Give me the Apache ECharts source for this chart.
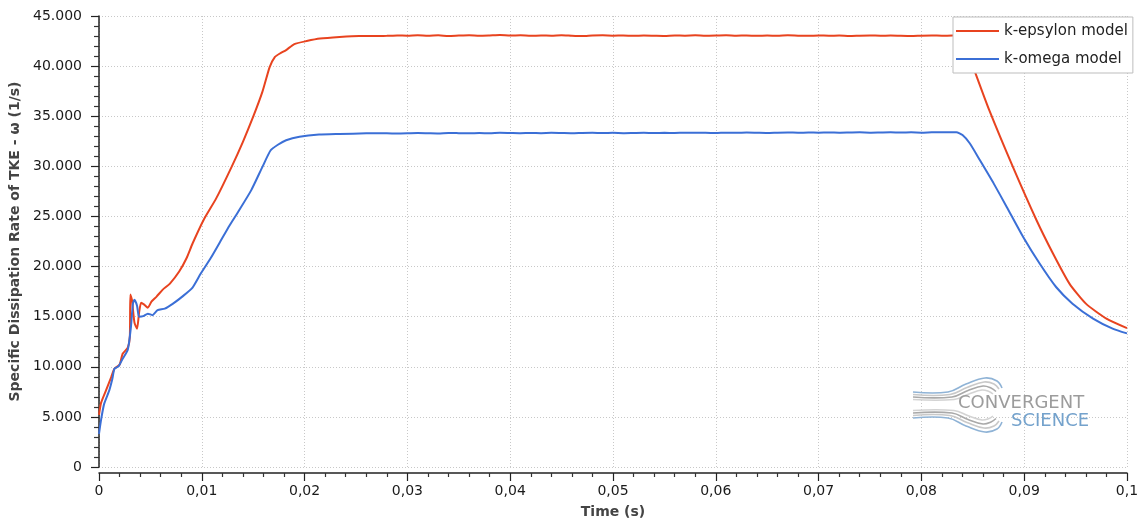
<!DOCTYPE html>
<html>
<head>
<meta charset="utf-8">
<script src="https://cdn.jsdelivr.net/npm/echarts@6/dist/echarts.min.js"></script>
<style>
html,body{margin:0;padding:0;background:#fff;}
#chart{width:1145px;height:526px;}
</style>
</head>
<body>
<div id="chart"></div>
<script>
// ---- Data (time in s, value in 1/s) ----
const seriesNames = ['k-epsylon model', 'k-omega model'];
const xTicks = [0, 0.01, 0.02, 0.03, 0.04, 0.05, 0.06, 0.07, 0.08, 0.09, 0.1];
const yTicks = [0, 5000, 10000, 15000, 20000, 25000, 30000, 35000, 40000, 45000];

const kEpsilon = [
  [0, 5200], [0.0002, 6400], [0.0007, 7700], [0.0012, 9000], [0.0015, 9800],
  [0.002, 10200], [0.0023, 11300], [0.0028, 11900], [0.0030, 13000], [0.00305, 17200],
  [0.0032, 16700], [0.00345, 14400], [0.0037, 13800], [0.0039, 15400], [0.0041, 16400],
  [0.0044, 16200], [0.00475, 15900], [0.0051, 16500], [0.0056, 17000], [0.0062, 17700],
  [0.0069, 18300], [0.0078, 19500], [0.0085, 20800], [0.0091, 22300], [0.0102, 24700],
  [0.0114, 26800], [0.0129, 29950], [0.0140, 32450], [0.0150, 34950], [0.0159, 37450],
  [0.0166, 39900], [0.0171, 40900], [0.0176, 41260], [0.0182, 41600], [0.0190, 42200],
  [0.0202, 42500], [0.0215, 42750], [0.0234, 42910], [0.0253, 43010], [0.0273, 43010],
  [0.028, 43020], [0.029, 43060], [0.030, 43040], [0.031, 43090], [0.032, 43030],
  [0.033, 43070], [0.034, 43010], [0.035, 43050], [0.036, 43080], [0.037, 43030],
  [0.038, 43060], [0.039, 43100], [0.040, 43050], [0.041, 43070], [0.042, 43020],
  [0.043, 43060], [0.044, 43040], [0.045, 43080], [0.046, 43030], [0.047, 43000],
  [0.048, 43050], [0.049, 43070], [0.050, 43040], [0.051, 43060], [0.052, 43020],
  [0.053, 43050], [0.054, 43030], [0.055, 43010], [0.056, 43060], [0.057, 43040],
  [0.058, 43070], [0.059, 43030], [0.060, 43050], [0.061, 43080], [0.062, 43040],
  [0.063, 43060], [0.064, 43020], [0.065, 43050], [0.066, 43030], [0.067, 43070],
  [0.068, 43040], [0.069, 43020], [0.070, 43060], [0.071, 43030], [0.072, 43050],
  [0.073, 43010], [0.074, 43040], [0.075, 43060], [0.076, 43030], [0.077, 43050],
  [0.078, 43020], [0.079, 43000], [0.080, 43040], [0.081, 43060], [0.082, 43030],
  [0.083, 43050], [0.0836, 43050], [0.0841, 42300], [0.0847, 40900], [0.0852, 39450],
  [0.0866, 35600], [0.0889, 29940], [0.0912, 24620], [0.0928, 21300], [0.0944, 18300],
  [0.0960, 16300], [0.0980, 14800], [0.1, 13850]
];

const kOmega = [
  [0, 3300], [0.0002, 4700], [0.0005, 6300], [0.001, 7650], [0.0013, 8800],
  [0.0015, 9800], [0.0019, 10050], [0.0023, 10800], [0.0028, 11700], [0.0031, 13900],
  [0.0033, 16300], [0.00345, 16700], [0.0037, 16100], [0.0039, 15000], [0.0043, 15050],
  [0.00475, 15300], [0.0052, 15150], [0.0057, 15650], [0.0064, 15800], [0.0072, 16300],
  [0.0081, 17000], [0.0091, 17900], [0.0099, 19300], [0.0109, 20900], [0.0118, 22500],
  [0.0127, 24100], [0.0135, 25400], [0.0148, 27600], [0.0159, 29950], [0.0167, 31600],
  [0.0174, 32150], [0.0182, 32600], [0.0195, 32950], [0.0214, 33170], [0.0234, 33230],
  [0.026, 33290], [0.028, 33300], [0.029, 33270], [0.030, 33290], [0.031, 33320],
  [0.032, 33300], [0.033, 33280], [0.034, 33330], [0.035, 33310], [0.036, 33290],
  [0.037, 33320], [0.038, 33300], [0.039, 33340], [0.040, 33320], [0.041, 33300],
  [0.042, 33330], [0.043, 33310], [0.044, 33340], [0.045, 33320], [0.046, 33300],
  [0.047, 33330], [0.048, 33350], [0.049, 33320], [0.050, 33340], [0.051, 33310],
  [0.052, 33330], [0.053, 33350], [0.054, 33320], [0.055, 33340], [0.056, 33330],
  [0.057, 33360], [0.058, 33340], [0.059, 33350], [0.060, 33320], [0.061, 33360],
  [0.062, 33340], [0.063, 33370], [0.064, 33350], [0.065, 33330], [0.066, 33360],
  [0.067, 33380], [0.068, 33350], [0.069, 33370], [0.070, 33360], [0.071, 33380],
  [0.072, 33350], [0.073, 33370], [0.074, 33390], [0.075, 33360], [0.076, 33380],
  [0.077, 33400], [0.078, 33370], [0.079, 33390], [0.080, 33360], [0.081, 33400],
  [0.082, 33410], [0.083, 33400], [0.0834, 33400], [0.0840, 33120], [0.0847, 32300],
  [0.0857, 30600], [0.0870, 28350], [0.0883, 25950], [0.0899, 22950], [0.0915, 20300],
  [0.0931, 17960], [0.0947, 16300], [0.0967, 14810], [0.0986, 13810], [0.1, 13330]
];

function fmtY(v) {
  if (v === 0) return '0';
  const s = String(Math.round(v));
  return s.replace(/\B(?=(\d{3})+(?!\d))/g, '.');
}
function fmtX(v) {
  return String(+v.toFixed(4)).replace('.', ',');
}

const FONT = 'DejaVu Sans';
const chart = echarts.init(document.getElementById('chart'), null, {renderer: 'canvas'});

// decorative watermark logo (upper arcs, mirrored for lower arcs)
const logoUpper = [
  {p: [[913,392],[948,392],[966,384],[985,378],[997,381],[1002,388]], c: '#8fb3d6'},
  {p: [[913,394.5],[950,394.5],[967,387.5],[984,382],[994,384],[999,389]], c: '#c9c9c9'},
  {p: [[913,397],[952,397],[968,390.5],[983,386],[991,388],[996,391.5]], c: '#a9a9a9'},
  {p: [[913,399.5],[954,399.5],[969,394],[982,390],[989,391.5],[993,394]], c: '#d3d3d3'}
];
const logoGraphics = [];
logoUpper.forEach(o => {
  logoGraphics.push({type: 'polyline', shape: {points: o.p, smooth: 0.4}, style: {fill: null, stroke: o.c, lineWidth: 1.6}, z: 1});
  logoGraphics.push({type: 'polyline', shape: {points: o.p.map(q => [q[0], 810 - q[1]]), smooth: 0.4}, style: {fill: null, stroke: o.c, lineWidth: 1.6}, z: 1});
});
logoGraphics.push({type: 'text', x: 958, y: 394, style: {text: 'CONVERGENT', fill: '#9c9c9c', font: '18px "DejaVu Sans"'}, z: 1});
logoGraphics.push({type: 'text', x: 1011, y: 412, style: {text: 'SCIENCE', fill: '#74a2cc', font: '18px "DejaVu Sans"'}, z: 1});

chart.setOption({
  animation: false,
  backgroundColor: '#fff',
  color: ['#e8431f', '#3b6fd6'],
  grid: {left: 99, right: 18, top: 16, bottom: 59, containLabel: false},
  legend: {
    data: seriesNames,
    orient: 'vertical',
    left: 953, top: 17,
    padding: [4, 5, 4, 3],
    itemGap: 8,
    itemWidth: 43, itemHeight: 2,
    icon: 'rect',
    borderColor: '#bdbdbd', borderWidth: 1,
    backgroundColor: '#fff',
    textStyle: {fontFamily: FONT, fontSize: 15, color: '#222', lineHeight: 20},
    z: 10
  },
  graphic: logoGraphics,
  xAxis: {
    type: 'value',
    min: 0, max: 0.1, interval: 0.01,
    offset: 6,
    name: 'Time (s)',
    nameLocation: 'middle',
    nameGap: 32,
    nameTextStyle: {fontFamily: FONT, fontSize: 14, fontWeight: 'bold', color: '#444'},
    axisLine: {show: true, onZero: false, lineStyle: {color: '#222', width: 1.5}},
    axisTick: {show: true, length: 8, lineStyle: {color: '#222', width: 1.2}},
    minorTick: {show: true, splitNumber: 5, length: 4, lineStyle: {color: '#333', width: 1.2}},
    axisLabel: {fontFamily: FONT, fontSize: 14, color: '#1a1a1a', margin: 11, formatter: fmtX},
    splitLine: {show: true, lineStyle: {color: '#c8c8c8', type: [1, 2], width: 1}}
  },
  yAxis: {
    type: 'value',
    min: 0, max: 45000, interval: 5000,
    offset: 6,
    name: 'Specific Dissipation Rate of TKE - ω (1/s)',
    nameLocation: 'middle',
    nameGap: 68,
    nameTextStyle: {fontFamily: FONT, fontSize: 14, fontWeight: 'bold', color: '#444'},
    axisLine: {show: true, lineStyle: {color: '#222', width: 1.5}},
    axisTick: {show: true, length: 8, lineStyle: {color: '#222', width: 1.2}},
    minorTick: {show: true, splitNumber: 5, length: 5, lineStyle: {color: '#333', width: 1.2}},
    axisLabel: {fontFamily: FONT, fontSize: 14, color: '#1a1a1a', margin: 11, formatter: fmtY},
    splitLine: {show: true, lineStyle: {color: '#c8c8c8', type: [1, 2], width: 1}}
  },
  series: [
    {name: seriesNames[0], type: 'line', data: kEpsilon, showSymbol: false, smooth: 0.2,
     lineStyle: {width: 2}, z: 3},
    {name: seriesNames[1], type: 'line', data: kOmega, showSymbol: false, smooth: 0.2,
     lineStyle: {width: 2}, z: 3}
  ]
});
</script>
</body>
</html>
